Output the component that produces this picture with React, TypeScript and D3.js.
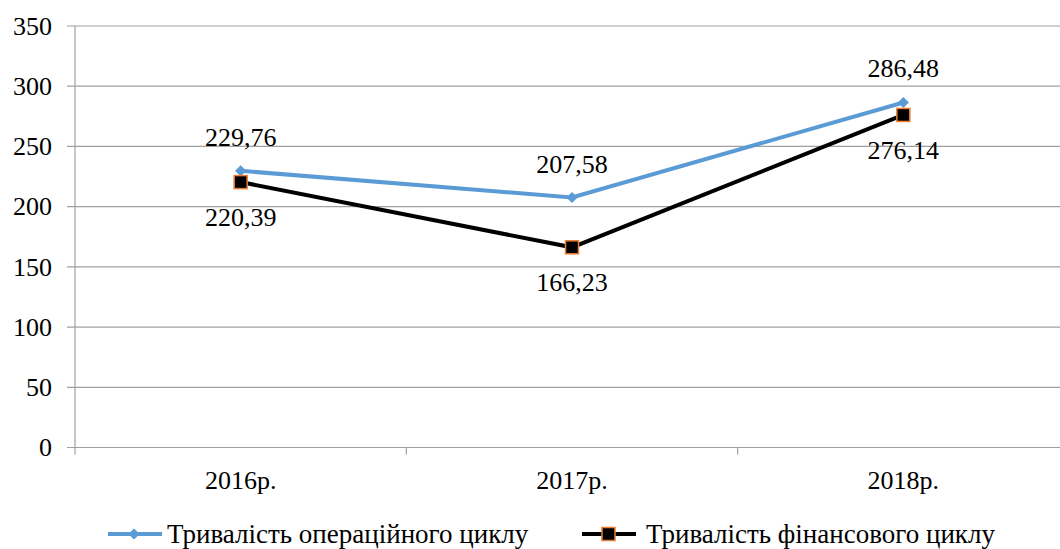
import React from "react";
import * as d3 from "d3";

const years = ["2016р.", "2017р.", "2018р."];
const operCycle = [229.76, 207.58, 286.48];
const finCycle = [220.39, 166.23, 276.14];
const yTicks = [0, 50, 100, 150, 200, 250, 300, 350];
const seriesNames = ["Тривалість операційного циклу", "Тривалість фінансового циклу"];

const W = 1060;
const H = 549;
const margin = { top: 26, right: -9, bottom: 102, left: 75 };
const blue = "#5B9BD5";
const orange = "#ED7D31";
const grid = "#a0a0a0";
const font = "'Times New Roman', 'Liberation Serif', Tinos, FreeSerif, serif";

const fmt = (v: number) => v.toFixed(2).replace(".", ",");

const x = d3.scaleBand().domain(years).range([margin.left, W - margin.right]);
const y = d3.scaleLinear().domain([0, 350]).range([H - margin.bottom + 0.5, margin.top]);
const cx = (i: number) => x(years[i])! + x.bandwidth() / 2;
const line = d3
  .line<number>()
  .x((_, i) => cx(i))
  .y((d) => y(d));
const diamond = d3.symbol().type(d3.symbolDiamond2).size(80)()!;

function Square({ px, py }: { px: number; py: number }) {
  return (
    <rect x={px - 6.5} y={py - 6.5} width={13} height={13} fill="#000" stroke={orange} strokeWidth={1.5} />
  );
}

export default function App() {
  return (
    <div style={{ position: "absolute", left: 0, top: 0, fontFamily: font }}>
      <svg width={W} height={H} style={{ display: "block", fontFamily: font }}>
        <rect width={W} height={H} fill="#fff" />
        {yTicks.map((t) => (
          <line key={"g" + t} x1={margin.left - 8} x2={W - margin.right} y1={y(t)} y2={y(t)} stroke={grid} strokeWidth={1.2} />
        ))}
        <line x1={margin.left} x2={margin.left} y1={y(350)} y2={y(0) + 7} stroke={grid} strokeWidth={1.2} />
        {years.slice(1).map((c) => (
          <line key={"t" + c} x1={x(c)} x2={x(c)} y1={y(0)} y2={y(0) + 7} stroke={grid} strokeWidth={1.2} />
        ))}

        {yTicks.map((t) => (
          <text key={"yl" + t} x={52} y={y(t)} dy="0.34em" textAnchor="end" fontSize={26} style={{ fontFamily: font }}>
            {t}
          </text>
        ))}
        {years.map((c) => (
          <text key={"xl" + c} x={x(c)! + x.bandwidth() / 2} y={y(0) + 41} textAnchor="middle" fontSize={26} style={{ fontFamily: font }}>
            {c}
          </text>
        ))}

        <path d={line(finCycle)!} fill="none" stroke="#000" strokeWidth={4} />
        <path d={line(operCycle)!} fill="none" stroke={blue} strokeWidth={4} />

        {operCycle.map((v, i) => (
          <path key={"d" + i} d={diamond} transform={`translate(${cx(i)},${y(v)})`} fill={blue} />
        ))}
        {finCycle.map((v, i) => (
          <Square key={"s" + i} px={cx(i)} py={y(v)} />
        ))}

        {operCycle.map((v, i) => (
          <text key={"ov" + i} x={cx(i)} y={y(v) - 25} textAnchor="middle" fontSize={26} style={{ fontFamily: font }}>
            {fmt(v)}
          </text>
        ))}
        {finCycle.map((v, i) => (
          <text key={"fv" + i} x={cx(i)} y={y(v) + 44} textAnchor="middle" fontSize={26} style={{ fontFamily: font }}>
            {fmt(v)}
          </text>
        ))}

        <g transform="translate(108,534)">
          <line x1={0} x2={54} stroke={blue} strokeWidth={4} />
          <path d={diamond} transform="translate(26,0)" fill={blue} />
        </g>
        <text x={167} y={543} fontSize={27} style={{ fontFamily: font }}>
          {seriesNames[0]}
        </text>
        <g transform="translate(582,534)">
          <line x1={0} x2={54} stroke="#000" strokeWidth={4} />
          <Square px={26.5} py={0} />
        </g>
        <text x={646} y={543} fontSize={27} style={{ fontFamily: font }}>
          {seriesNames[1]}
        </text>
      </svg>
    </div>
  );
}
